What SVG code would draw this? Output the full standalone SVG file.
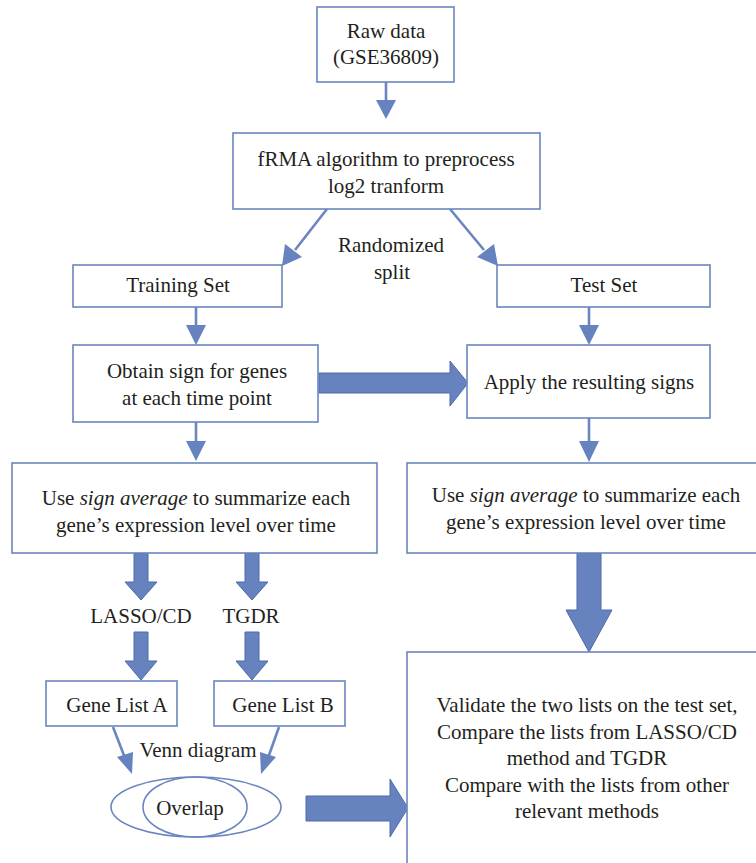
<svg xmlns="http://www.w3.org/2000/svg" width="756" height="863" viewBox="0 0 756 863">
<style>
.box{fill:#fff;stroke:#6a85c0;stroke-width:1.6}
.t{font-family:"Liberation Serif","Times New Roman",serif;font-size:21px;fill:#231f20;text-anchor:middle}
.ln{stroke:#6a85c0;stroke-width:2.6;fill:none}
.blk{fill:#6683c0;stroke:#4f6aa8;stroke-width:1}
.hd{fill:#6683c0}
</style>
<rect width="756" height="863" fill="#fff"/>
<g id="connectors">
<line class="ln" x1="386" y1="82" x2="386" y2="102"/>
<polygon class="hd" points="376,100 396,100 386,119"/>
<line class="ln" x1="327" y1="209" x2="295" y2="250"/>
<polygon class="hd" points="285,244 302,257 282,266"/>
<line class="ln" x1="450" y1="209" x2="484" y2="250"/>
<polygon class="hd" points="477,257 494,244 498,266"/>
<line class="ln" x1="196" y1="307" x2="196" y2="327"/>
<polygon class="hd" points="186,325 206,325 196,345"/>
<line class="ln" x1="589" y1="307" x2="589" y2="327"/>
<polygon class="hd" points="579,325 599,325 589,345"/>
<line class="ln" x1="196" y1="422" x2="196" y2="443"/>
<polygon class="hd" points="186,441 206,441 196,461"/>
<line class="ln" x1="589" y1="418" x2="589" y2="443"/>
<polygon class="hd" points="579,441 599,441 589,462"/>
<polygon class="blk" points="319,373 450,373 450,361 468,383 450,406 450,393 319,393"/>
<polygon class="blk" points="134,553 148,553 148,582 157,582 141,600 125,582 134,582"/>
<polygon class="blk" points="245,553 259,553 259,582 268,582 252,600 236,582 245,582"/>
<polygon class="blk" points="134,632 148,632 148,661 157,661 141,680 125,661 134,661"/>
<polygon class="blk" points="245,632 259,632 259,661 268,661 252,680 236,661 245,661"/>
<polygon class="blk" points="577,553 601,553 601,610 612,610 589,652 566,610 577,610"/>
<polygon class="blk" points="306,796 390,796 390,779 408,808 390,837 390,821 306,821"/>
<line class="ln" x1="113" y1="727" x2="125" y2="758"/>
<polygon class="hd" points="117,757 133,752 132,774"/>
<line class="ln" x1="279" y1="727" x2="268" y2="758"/>
<polygon class="hd" points="260,752 276,757 261,774"/>
</g>
<g id="raw"><rect class="box" x="317" y="7" width="137" height="75"/><text class="t" x="386" y="38">Raw data</text><text class="t" x="386" y="64">(GSE36809)</text></g>
<g id="frma"><rect class="box" x="233" y="133" width="307" height="76"/><text class="t" x="386" y="166">fRMA algorithm to preprocess</text><text class="t" x="386" y="193">log2 tranform</text></g>
<g id="split"><text class="t" x="391" y="252">Randomized</text><text class="t" x="392" y="279">split</text></g>
<g id="train"><rect class="box" x="73" y="265" width="209" height="42"/><text class="t" x="178" y="292">Training Set</text></g>
<g id="test"><rect class="box" x="497" y="265" width="213" height="42"/><text class="t" x="604" y="292">Test Set</text></g>
<g id="obtain"><rect class="box" x="73" y="345" width="245" height="77"/><text class="t" x="197" y="378">Obtain sign for genes</text><text class="t" x="197" y="405">at each time point</text></g>
<g id="apply"><rect class="box" x="467" y="345" width="243" height="73"/><text class="t" x="589" y="389">Apply the resulting signs</text></g>
<g id="useL"><rect class="box" x="12" y="463" width="365" height="90"/><text class="t" x="196" y="505">Use <tspan font-style="italic">sign average</tspan> to summarize each</text><text class="t" x="196" y="532">gene’s expression level over time</text></g>
<g id="useR"><rect class="box" x="407" y="463" width="360" height="90"/><text class="t" x="586" y="502">Use <tspan font-style="italic">sign average</tspan> to summarize each</text><text class="t" x="586" y="529">gene’s expression level over time</text></g>
<g id="lasso"><text class="t" x="141" y="623">LASSO/CD</text></g>
<g id="tgdr"><text class="t" x="251" y="623">TGDR</text></g>
<g id="listA"><rect class="box" x="46" y="681" width="131" height="45"/><text class="t" x="117" y="712">Gene List A</text></g>
<g id="listB"><rect class="box" x="214" y="681" width="131" height="45"/><text class="t" x="283" y="712">Gene List B</text></g>
<g id="venn"><text class="t" x="198" y="757">Venn diagram</text></g>
<g id="overlap"><ellipse class="box" cx="196" cy="807" rx="85" ry="30"/><ellipse cx="195" cy="807" rx="52" ry="30" fill="none" stroke="#6a85c0" stroke-width="1.6"/><text class="t" x="190" y="815">Overlap</text></g>
<g id="validate"><rect class="box" x="407" y="652" width="360" height="220"/><text class="t" x="587" y="712">Validate the two lists on the test set,</text><text class="t" x="587" y="739">Compare the lists from LASSO/CD</text><text class="t" x="587" y="765">method and TGDR</text><text class="t" x="587" y="792">Compare with the lists from other</text><text class="t" x="587" y="818">relevant methods</text></g>
</svg>
